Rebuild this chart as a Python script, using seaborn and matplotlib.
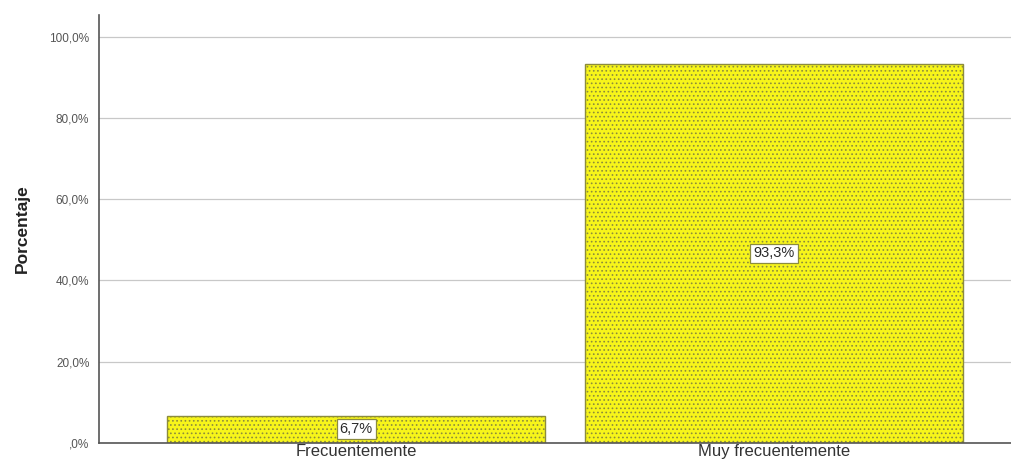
import matplotlib
matplotlib.use("Agg")
import matplotlib.pyplot as plt
import seaborn as sns
import pandas as pd

# data
categorias = ["Frecuentemente", "Muy frecuentemente"]
porcentajes = [6.7, 93.3]
etiquetas = ["6,7%", "93,3%"]
ticks_y = [0, 20, 40, 60, 80, 100]
ticks_y_txt = [",0%", "20,0%", "40,0%", "60,0%", "80,0%", "100,0%"]

df = pd.DataFrame({"categoria": categorias, "porcentaje": porcentajes})

sns.set_style("white")
plt.rcParams["font.family"] = ["Liberation Sans", "DejaVu Sans"]
plt.rcParams["hatch.color"] = "#c4c42a"
plt.rcParams["hatch.linewidth"] = 0.7

fig = plt.figure(figsize=(10.11, 4.67), dpi=100)
ax = fig.add_axes([0.098, 0.0514, 0.902, 0.917])

sns.barplot(data=df, x="categoria", y="porcentaje", color="#f7f51a",
            saturation=1, width=0.904, edgecolor="#8c8c3c", linewidth=1,
            hatch="....", ax=ax, zorder=2)

# boxed value labels
for i, (v, t) in enumerate(zip(porcentajes, etiquetas)):
    ax.text(i, v / 2, t, ha="center", va="center", fontsize=10.5,
            color="#2a2a2a", zorder=4,
            bbox=dict(boxstyle="square,pad=0.2", fc="white", ec="#8c8c3c", lw=0.9))

ax.set_xlim(-0.615, 1.567)
ax.set_ylim(0, 105.4)
ax.set_yticks(ticks_y)
ax.set_yticklabels(ticks_y_txt, fontsize=8.5, color="#555555")
ax.tick_params(axis="x", labelsize=12, labelcolor="#333333", length=0, pad=1)
ax.tick_params(axis="y", length=0, pad=7)
ax.yaxis.grid(True, color="#c8c8c8", linewidth=0.9, zorder=0)
ax.set_axisbelow(True)

ax.set_xlabel("")
ax.set_ylabel("Porcentaje", fontsize=12.5, fontweight="bold", color="#222222", labelpad=14)

for s in ["top", "right"]:
    ax.spines[s].set_visible(False)
for s in ["left", "bottom"]:
    ax.spines[s].set_color("#555555")
    ax.spines[s].set_linewidth(1.2)

fig.savefig("out.png", dpi=100, facecolor="white")
